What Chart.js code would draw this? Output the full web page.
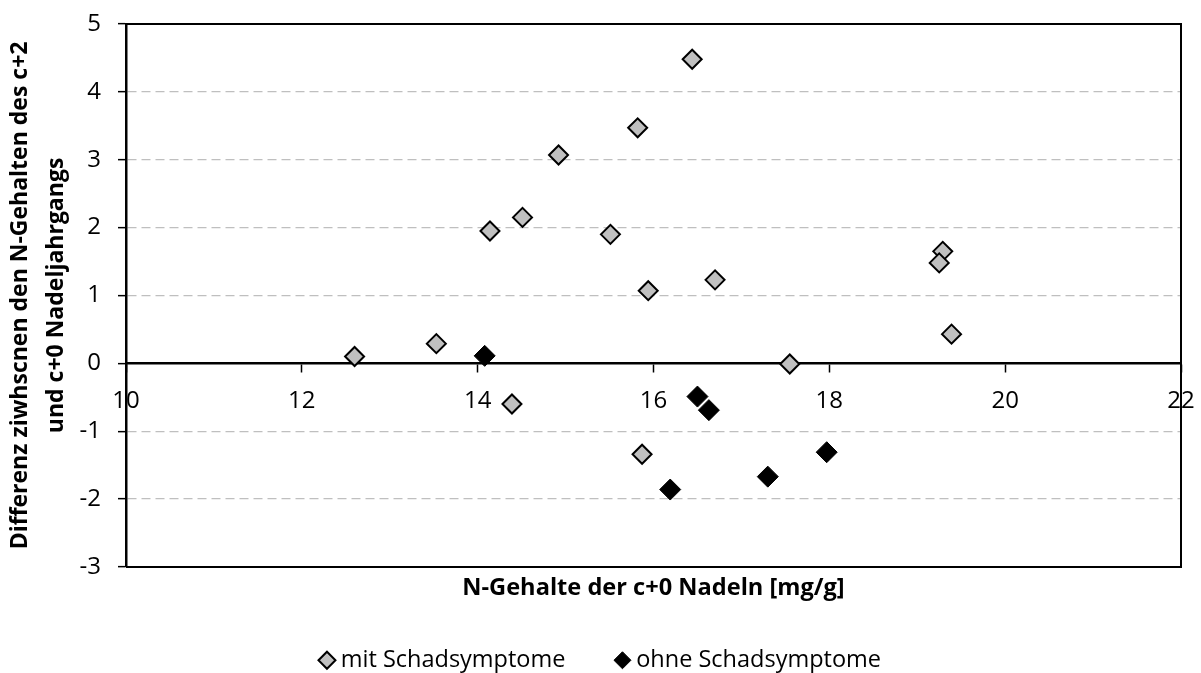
<!DOCTYPE html>
<html>
<head>
<meta charset="utf-8">
<script src="https://cdn.jsdelivr.net/npm/chart.js@4.4.1/dist/chart.umd.min.js"></script>
<style>
  html, body { margin: 0; padding: 0; background: #ffffff; }
  canvas { display: block; }
</style>
</head>
<body>
<canvas id="chart" width="1201" height="673"></canvas>
<script>
// N content of current-year needles (mg/g) and the c+2 minus c+0 difference
const mitX = [12.60, 13.53, 14.14, 14.51, 14.92, 15.51, 15.82, 15.94, 16.44, 16.70, 14.39, 15.87, 17.55, 19.29, 19.25, 19.39];
const mitY = [0.10, 0.29, 1.95, 2.15, 3.07, 1.90, 3.47, 1.07, 4.48, 1.23, -0.60, -1.34, -0.01, 1.65, 1.48, 0.43];
const ohneX = [14.08, 16.50, 16.63, 16.19, 17.30, 17.97];
const ohneY = [0.11, -0.49, -0.69, -1.86, -1.67, -1.31];

const seriesNames = ['mit Schadsymptome', 'ohne Schadsymptome'];
const xTickValues = [10, 12, 14, 16, 18, 20, 22];
const yTickValues = [-3, -2, -1, 0, 1, 2, 3, 4, 5];
const xTitle = 'N-Gehalte der c+0 Nadeln [mg/g]';
const yTitle = ['Differenz ziwhscnen den N-Gehalten des c+2', 'und c+0 Nadeljahrgangs'];

const FONT = '"Open Sans", "DejaVu Sans", sans-serif';

const toPoints = (xs, ys) => xs.map((x, i) => ({ x: x, y: ys[i] }));

// closes the plot box on the top, right and bottom sides
const plotFrame = {
  id: 'plotFrame',
  beforeDatasetsDraw(chart) {
    const { ctx, chartArea: a } = chart;
    ctx.save();
    ctx.strokeStyle = '#000';
    ctx.lineWidth = 2;
    ctx.beginPath();
    ctx.moveTo(a.left, a.top);
    ctx.lineTo(a.right, a.top);
    ctx.lineTo(a.right, a.bottom);
    ctx.lineTo(a.left, a.bottom);
    ctx.stroke();
    ctx.restore();
  }
};

// nudges the legend row a little to the right of the centre
const legendShift = {
  id: 'legendShift',
  afterLayout(chart) {
    if (chart.legend) chart.legend.left += 25;
  }
};

new Chart(document.getElementById('chart'), {
  type: 'scatter',
  data: {
    datasets: [
      {
        label: seriesNames[0],
        data: toPoints(mitX, mitY),
        pointStyle: 'rectRot',
        pointRadius: 9.5,
        pointHoverRadius: 9.5,
        backgroundColor: '#c0c0c0',
        borderColor: '#000000',
        borderWidth: 2
      },
      {
        label: seriesNames[1],
        data: toPoints(ohneX, ohneY),
        pointStyle: 'rectRot',
        pointRadius: 10.5,
        pointHoverRadius: 10.5,
        backgroundColor: '#000000',
        borderColor: '#000000',
        borderWidth: 1
      }
    ]
  },
  options: {
    responsive: false,
    animation: false,
    devicePixelRatio: 1,
    layout: { padding: { top: 24, right: 20, bottom: -9, left: 0 } },
    scales: {
      x: {
        type: 'linear',
        min: 10,
        max: 22,
        position: { y: 0 },
        afterBuildTicks: s => { s.ticks = xTickValues.map(v => ({ value: v })); },
        afterFit: s => { s.paddingLeft = 0; s.paddingRight = 0; },
        ticks: { color: '#000', font: { family: FONT, size: 24 }, padding: 15, maxRotation: 0, autoSkip: false },
        grid: { drawOnChartArea: false, drawTicks: true, tickLength: 8, tickColor: '#000', tickWidth: 1.5 },
        border: { display: true, color: '#000', width: 2.5 }
      },
      y: {
        type: 'linear',
        min: -3,
        max: 5,
        position: 'left',
        afterBuildTicks: s => { s.ticks = yTickValues.map(v => ({ value: v })); },
        afterFit: s => { s.width = 126; s.paddingTop = 0; s.paddingBottom = 0; },
        ticks: { color: '#000', font: { family: FONT, size: 24 }, padding: 17, autoSkip: false },
        grid: {
          color: c => (c.tick && [5, 0, -3].includes(c.tick.value)) ? 'rgba(0,0,0,0)' : '#bfbfbf',
          lineWidth: 1.3,
          tickColor: '#000',
          tickLength: 8,
          tickWidth: 1.5
        },
        border: { display: true, color: '#000', width: 2.5, dash: [9, 5] },
        title: {
          display: true,
          text: yTitle,
          color: '#000',
          font: { family: FONT, size: 23, weight: 'bold', lineHeight: 1.565 },
          padding: { top: 2, bottom: 0 }
        }
      }
    },
    plugins: {
      title: {
        display: true,
        position: 'bottom',
        fullSize: false,
        weight: 500,
        text: xTitle,
        color: '#000',
        font: { family: FONT, size: 23.6, weight: 'bold', lineHeight: 1.0 },
        padding: { top: 10, bottom: -7 }
      },
      legend: {
        display: true,
        position: 'bottom',
        weight: 1000,
        labels: {
          usePointStyle: true,
          boxWidth: 4,
          boxHeight: 12,
          padding: 55,
          color: '#000',
          font: { family: FONT, size: 23.5 }
        }
      },
      tooltip: { enabled: false }
    }
  },
  plugins: [plotFrame, legendShift]
});
</script>
</body>
</html>
